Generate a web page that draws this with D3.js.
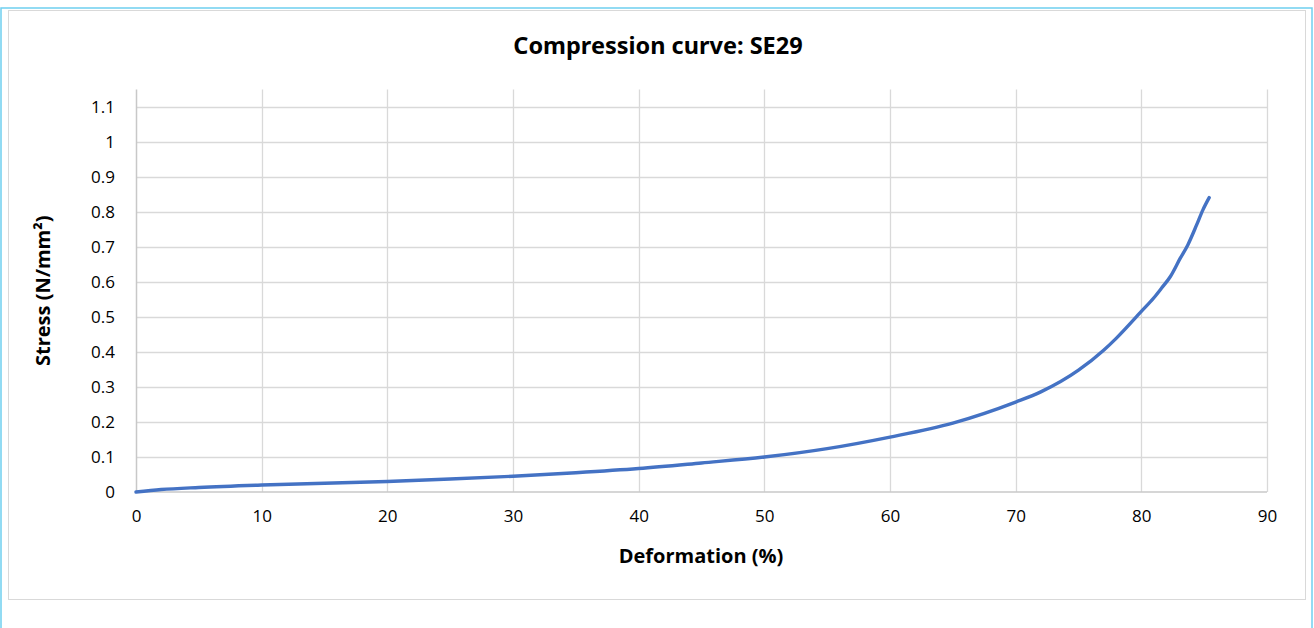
<!DOCTYPE html>
<html>
<head>
<meta charset="utf-8">
<script src="https://cdn.jsdelivr.net/npm/d3@7"></script>
<style>
  html, body { margin: 0; padding: 0; background: #fff; }
  svg { display: block; }
</style>
</head>
<body>
<svg id="chart" width="1314" height="628"></svg>
<script>
const chartTitle = "Compression curve: SE29";
const xAxisTitle = "Deformation (%)";
const yAxisTitle = "Stress (N/mm²)";
const xTicks = [0, 10, 20, 30, 40, 50, 60, 70, 80, 90];
const yTicks = [0, 0.1, 0.2, 0.3, 0.4, 0.5, 0.6, 0.7, 0.8, 0.9, 1, 1.1];
const deformation = [0, 2, 5, 10, 15, 20, 25, 30, 35, 40, 45, 50, 55, 60, 65, 70, 72, 75, 77, 78, 80, 81, 81.6, 82.3, 83.1, 83.7, 84.4, 84.9, 85.4];
const stress = [0, 0.007, 0.013, 0.020, 0.025, 0.030, 0.037, 0.045, 0.055, 0.067, 0.083, 0.100, 0.124, 0.157, 0.197, 0.257, 0.286, 0.348, 0.405, 0.439, 0.516, 0.555, 0.582, 0.615, 0.668, 0.706, 0.763, 0.806, 0.841];

const svg = d3.select("#chart");

// outer frames
svg.append("rect").attr("x", 1).attr("y", 8).attr("width", 1311).attr("height", 640)
  .attr("fill", "none").attr("stroke", "#6fcff0").attr("stroke-width", 1.5);
svg.append("rect").attr("x", 8.5).attr("y", 10.5).attr("width", 1297).attr("height", 589)
  .attr("fill", "#fff").attr("stroke", "#d9d9d9").attr("stroke-width", 1);

const plot = { left: 136, right: 1267, top: 89.5, bottom: 492 };
const x = d3.scaleLinear().domain([0, 90]).range([plot.left, plot.right]);
const y = d3.scaleLinear().domain([0, 1.15]).range([plot.bottom, plot.top]);

const fontTick = "'Open Sans', 'Noto Sans', sans-serif";

// gridlines
const g = svg.append("g");
g.selectAll("line.h").data(yTicks.filter(d => d > 0)).join("line")
  .attr("x1", plot.left).attr("x2", plot.right)
  .attr("y1", d => Math.round(y(d)) + 0.5).attr("y2", d => Math.round(y(d)) + 0.5)
  .attr("stroke", "#d9d9d9").attr("stroke-width", 1.3);
g.selectAll("line.v").data(xTicks.filter(d => d > 0)).join("line")
  .attr("x1", d => Math.round(x(d)) + 0.5).attr("x2", d => Math.round(x(d)) + 0.5)
  .attr("y1", plot.top).attr("y2", plot.bottom)
  .attr("stroke", "#d9d9d9").attr("stroke-width", 1.3);

// axes lines
svg.append("line").attr("x1", plot.left + 0.5).attr("x2", plot.left + 0.5)
  .attr("y1", plot.top).attr("y2", plot.bottom).attr("stroke", "#c8c8c8").attr("stroke-width", 1.5);
svg.append("line").attr("x1", plot.left).attr("x2", plot.right)
  .attr("y1", plot.bottom).attr("y2", plot.bottom).attr("stroke", "#c8c8c8").attr("stroke-width", 1.5);

// axes via d3
const yAxis = d3.axisLeft(y).tickValues(yTicks).tickSize(0).tickPadding(21)
  .tickFormat(d => d3.format("~g")(d));
const ya = svg.append("g").attr("transform", `translate(${plot.left},0)`).call(yAxis);
ya.select(".domain").remove();
ya.selectAll("text").attr("font-family", fontTick).attr("font-size", 17).attr("fill", "#000");

const xAxis = d3.axisBottom(x).tickValues(xTicks).tickSize(0).tickPadding(18);
const xa = svg.append("g").attr("transform", `translate(0,${plot.bottom})`).call(xAxis);
xa.select(".domain").remove();
xa.selectAll("text").attr("font-family", fontTick).attr("font-size", 17).attr("fill", "#000");

// curve
const pts = deformation.map((d, i) => [d, stress[i]]);
const line = d3.line().x(d => x(d[0])).y(d => y(d[1])).curve(d3.curveMonotoneX);
svg.append("path").datum(pts).attr("d", line)
  .attr("fill", "none").attr("stroke", "#4472c4").attr("stroke-width", 3.4)
  .attr("stroke-linecap", "round").attr("stroke-linejoin", "round");

// titles
svg.append("text").attr("x", 658).attr("y", 54).attr("text-anchor", "middle")
  .attr("font-family", "'Noto Sans', 'Open Sans', sans-serif").attr("font-weight", "bold")
  .attr("font-size", 23.5).attr("fill", "#000").text(chartTitle);
svg.append("text").attr("x", 701).attr("y", 563).attr("text-anchor", "middle")
  .attr("font-family", fontTick).attr("font-weight", "bold")
  .attr("font-size", 20).attr("fill", "#000").text(xAxisTitle);
svg.append("text").attr("transform", `translate(50,${(plot.top + plot.bottom) / 2}) rotate(-90)`)
  .attr("text-anchor", "middle")
  .attr("font-family", fontTick).attr("font-weight", "bold")
  .attr("font-size", 20).attr("fill", "#000").text(yAxisTitle);
</script>
</body>
</html>
